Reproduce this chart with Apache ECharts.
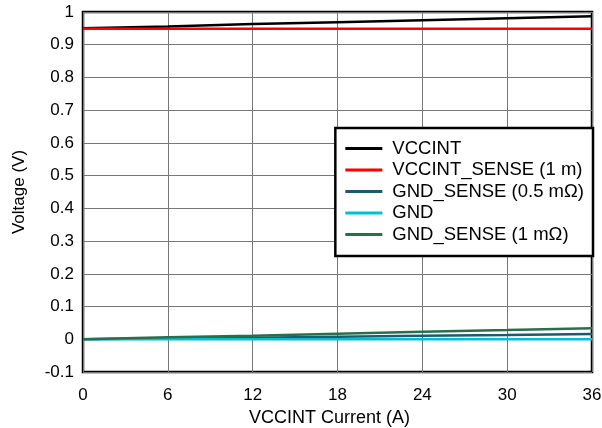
<!DOCTYPE html>
<html>
<head>
<meta charset="utf-8">
<script src="https://cdn.jsdelivr.net/npm/echarts@6/dist/echarts.min.js"></script>
<style>
  html, body { margin: 0; padding: 0; background: #fff; }
  #chart { width: 602px; height: 428px; }
</style>
</head>
<body>
<div id="chart"></div>
<script>
// VCCINT current (A)
var current = [0, 6, 12, 18, 24, 30, 36];
// voltages (V)
var vccint = [0.950, 0.956, 0.963, 0.969, 0.975, 0.981, 0.987];
var vccintSense = [0.949, 0.949, 0.949, 0.949, 0.949, 0.949, 0.949];
var gndSenseHalf = [0.000, 0.003, 0.005, 0.008, 0.011, 0.013, 0.016];
var gnd = [0, 0, 0, 0, 0, 0, 0];
var gndSenseOne = [0.000, 0.006, 0.011, 0.017, 0.023, 0.028, 0.034];

function pairs(ys) {
  return current.map(function (x, i) { return [x, ys[i]]; });
}

var myChart = echarts.init(document.getElementById('chart'));
var font = 'Liberation Sans, Arial, sans-serif';
var option = {
  animation: false,
  grid: {
    left: 83, right: 10, top: 12, bottom: 56,
    outerBoundsMode: 'none',
    show: true,
    borderColor: '#000',
    borderWidth: 2.5,
    backgroundColor: '#fff'
  },
  legend: {
    orient: 'vertical',
    right: 9,
    top: 128,
    backgroundColor: '#fff',
    borderColor: '#000',
    borderWidth: 2.5,
    padding: [11, 9, 12, 10],
    itemGap: 2.5,
    itemWidth: 37,
    itemHeight: 3,
    icon: 'rect',
    textStyle: { fontFamily: font, fontSize: 18.5, color: '#000', lineHeight: 19, padding: [0, 0, 0, 5] },
    data: ['VCCINT', 'VCCINT_SENSE (1 m)', 'GND_SENSE (0.5 mΩ)', 'GND', 'GND_SENSE (1 mΩ)']
  },
  xAxis: {
    type: 'value',
    min: 0, max: 36, interval: 6,
    name: 'VCCINT Current (A)',
    nameLocation: 'middle',
    nameGap: 36,
    nameTextStyle: { fontFamily: font, fontSize: 18, color: '#000', padding: [0, 16, 0, 0] },
    axisLine: { show: false },
    axisTick: { show: false },
    axisLabel: { fontFamily: font, fontSize: 17, color: '#000', margin: 15 },
    splitLine: { lineStyle: { color: '#777', width: 1 } }
  },
  yAxis: {
    type: 'value',
    min: -0.1, max: 1, interval: 0.1,
    name: 'Voltage (V)',
    nameLocation: 'middle',
    nameGap: 55,
    nameTextStyle: { fontFamily: font, fontSize: 17, color: '#000' },
    axisLine: { show: false },
    axisTick: { show: false },
    axisLabel: {
      fontFamily: font, fontSize: 17, color: '#000', margin: 9,
      formatter: function (v) { return String(Math.round(v * 10) / 10); }
    },
    splitLine: { lineStyle: { color: '#777', width: 1 } }
  },
  series: [
    { name: 'VCCINT', type: 'line', data: pairs(vccint), showSymbol: false,
      lineStyle: { color: '#000', width: 2.5 }, itemStyle: { color: '#000' } },
    { name: 'VCCINT_SENSE (1 m)', type: 'line', data: pairs(vccintSense), showSymbol: false,
      lineStyle: { color: '#ff0000', width: 2.5 }, itemStyle: { color: '#ff0000' } },
    { name: 'GND_SENSE (0.5 mΩ)', type: 'line', data: pairs(gndSenseHalf), showSymbol: false,
      lineStyle: { color: '#1d5a6e', width: 2.5 }, itemStyle: { color: '#1d5a6e' } },
    { name: 'GND', type: 'line', data: pairs(gnd), showSymbol: false,
      lineStyle: { color: '#00c0d0', width: 2.5 }, itemStyle: { color: '#00c0d0' } },
    { name: 'GND_SENSE (1 mΩ)', type: 'line', data: pairs(gndSenseOne), showSymbol: false,
      lineStyle: { color: '#2b6e4e', width: 2.5 }, itemStyle: { color: '#2b6e4e' } }
  ]
};
myChart.setOption(option);
</script>
</body>
</html>
